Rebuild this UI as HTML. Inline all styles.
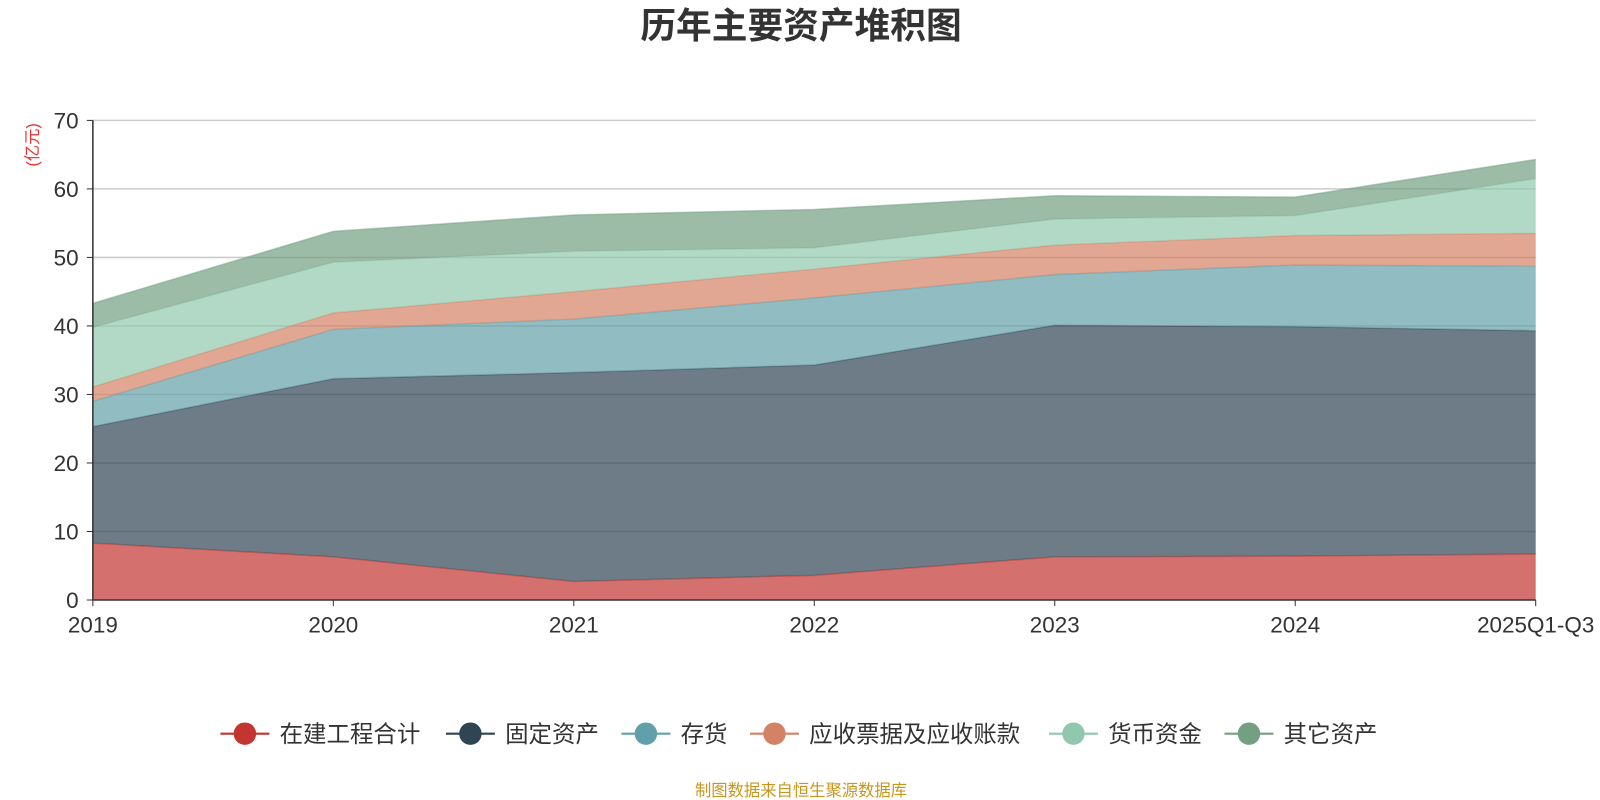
<!DOCTYPE html>
<html><head><meta charset="utf-8"><style>
body{margin:0;background:#fff;}
svg{display:block;font-family:"Liberation Sans","Noto Sans CJK SC",sans-serif;}
</style></head><body>
<svg id="chart" width="1600" height="800">
<g transform="scale(1.0204)">
<text x="785" y="37" text-anchor="middle" font-size="35" font-weight="bold" fill="#333">历年主要资产堆积图</text>
<text transform="translate(37,142) rotate(-90)" text-anchor="middle" font-size="16" fill="#e83030">(亿元)</text>
<g id="grid"></g><g id="areas"></g><g id="axes"></g><g id="legend"></g>
<text x="785" y="780" text-anchor="middle" font-size="16" fill="#c8961e">制图数据来自恒生聚源数据库</text>
</g>
</svg>
<script>
const categories=["2019","2020","2021","2022","2023","2024","2025Q1-Q3"];
const seriesNames=["在建工程合计","固定资产","存货","应收票据及应收账款","货币资金","其它资产"];
const s1=[8.3,6.3,2.7,3.6,6.3,6.4,6.7];
const s2=[17.0,26.0,30.5,30.7,33.8,33.5,32.6];
const s3=[3.7,7.2,7.8,9.8,7.4,9.0,9.4];
const s4=[2.1,2.4,4.0,4.2,4.3,4.3,4.8];
const s5=[8.7,7.4,5.9,3.1,3.8,2.9,8.0];
const s6=[3.5,4.5,5.3,5.6,3.4,2.7,2.8];
const yTicks=[0,10,20,30,40,50,60,70];
const colors=["#c23531","#2f4554","#61a0a8","#d48265","#91c7ae","#749f83"];
const NS="http://www.w3.org/2000/svg";
const x0=91,x1=1505,y0=588,y1=118,yMax=70;
const xs=i=>x0+(x1-x0)*i/(categories.length-1);
const ys=v=>y0-(y0-y1)*v/yMax;
function mk(tag,attrs,parent){const e=document.createElementNS(NS,tag);for(const k in attrs)e.setAttribute(k,attrs[k]);parent.appendChild(e);return e;}
const grid=document.getElementById('grid'),areas=document.getElementById('areas'),axes=document.getElementById('axes'),legend=document.getElementById('legend');
yTicks.forEach(t=>{
 if(t>0){const l=mk('line',{x1:x0,x2:x1,y1:ys(t),y2:ys(t),stroke:'#ccc','stroke-width':1.5},grid);
 
 }
 const tx=mk('text',{x:x0-14,y:ys(t)+8,'text-anchor':'end','font-size':22,fill:'#333'},axes);tx.textContent=t;
 
 
 const tk=mk('line',{x1:x0-6,x2:x0,y1:ys(t),y2:ys(t),stroke:'#333'},axes);
 
 
});
const series=[s1,s2,s3,s4,s5,s6];
let base=categories.map(()=>0);
series.forEach((s,k)=>{
 const top=base.map((b,i)=>b+s[i]);
 let d='M'+top.map((v,i)=>xs(i)+','+ys(v)).join(' L');
 for(let i=categories.length-1;i>=0;i--)d+=' L'+xs(i)+','+ys(base[i]);
 d+='Z';
 const p=mk('path',{d:d,fill:colors[k],'fill-opacity':0.7,stroke:'none'},areas);
 
 
 const ln=mk('polyline',{points:top.map((v,i)=>xs(i)+','+ys(v)).join(' '),fill:'none',stroke:colors[k],'stroke-opacity':0.5,'stroke-width':1.5},areas);
 
 
 base=top;
});
const ax=mk('line',{x1:x0,x2:x0,y1:y1,y2:y0,stroke:'#333','stroke-width':1.5},axes);


const bx=mk('line',{x1:x0,x2:x1,y1:y0,y2:y0,stroke:'#333','stroke-width':1.5},axes);


categories.forEach((c,i)=>{
 const tk=mk('line',{x1:xs(i),x2:xs(i),y1:y0,y2:y0+6,stroke:'#333'},axes);
 
 
 const t=mk('text',{x:xs(i),y:y0+32,'text-anchor':'middle','font-size':22,fill:'#333'},axes);t.textContent=c;
 
 
});
const lx=[216,437,609,735,1028,1200];
seriesNames.forEach((n,k)=>{
 const g=mk('g',{},legend);
 
 
 mk('line',{x1:lx[k],x2:lx[k]+48,y1:719,y2:719,stroke:colors[k],'stroke-width':2},g);
 mk('circle',{cx:lx[k]+24,cy:719,r:11,fill:colors[k]},g);
 const t=mk('text',{x:lx[k]+58,y:727,'font-size':23,fill:'#333'},g);t.textContent=n;
});
</script>
</body></html>
